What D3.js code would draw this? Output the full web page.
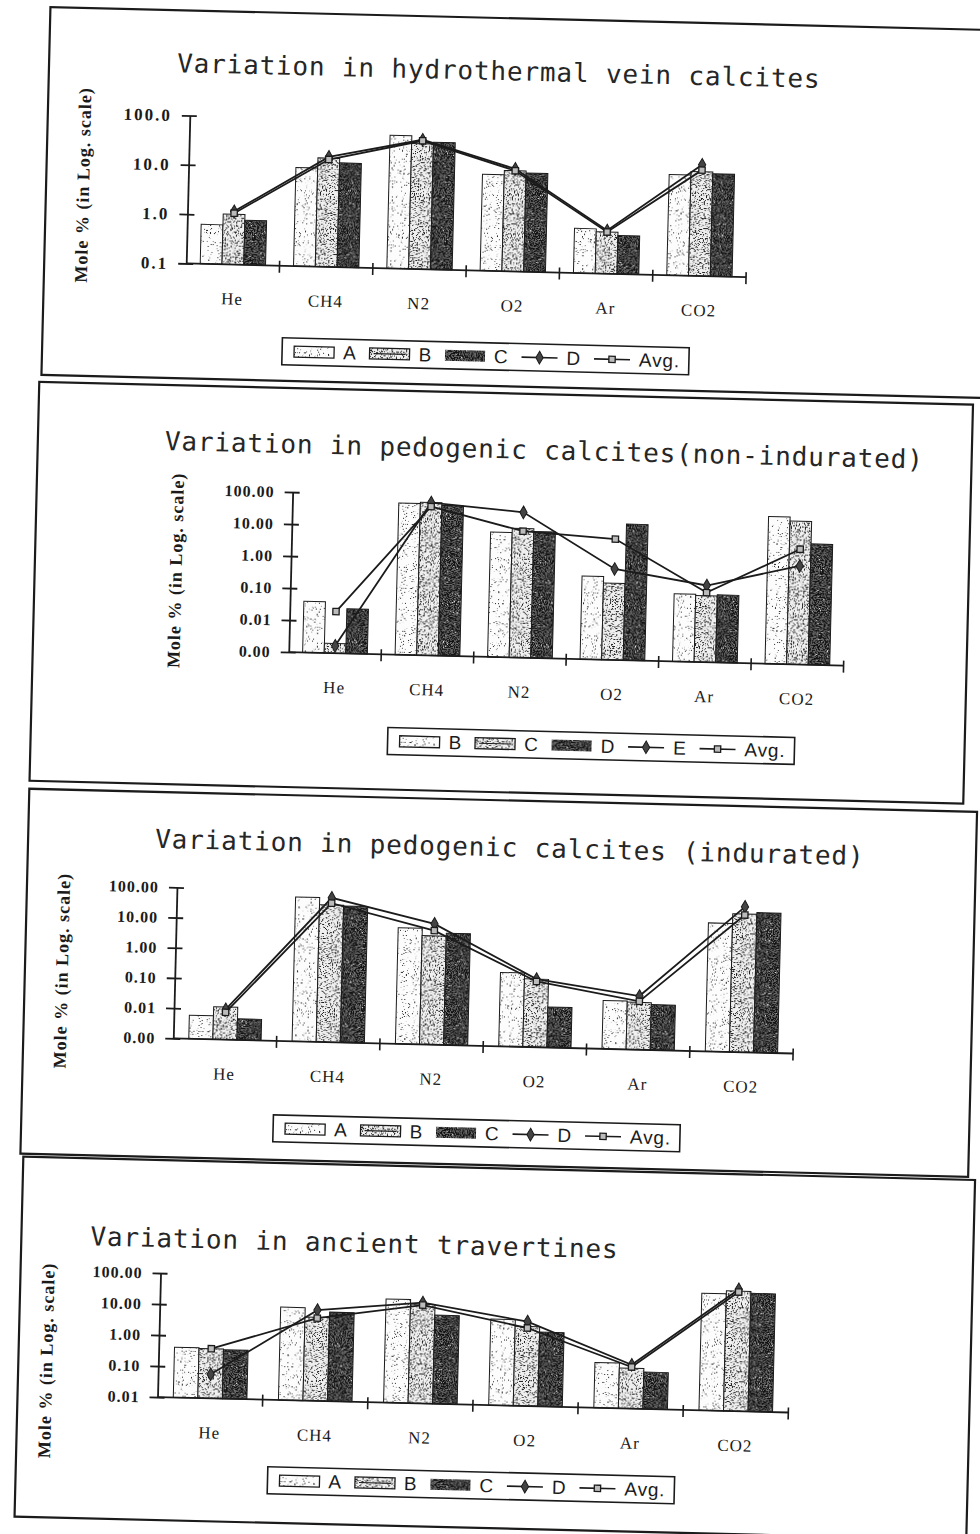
<!DOCTYPE html>
<html>
<head>
<meta charset="utf-8">
<script src="https://cdn.jsdelivr.net/npm/d3@7"></script>
<style>
  html, body { margin: 0; padding: 0; background: #fff; }
  svg { display: block; }
</style>
</head>
<body>
<svg id="fig" width="980" height="1534"></svg>
<script>
// ---- data -------------------------------------------------------------
const gases = ["He", "CH4", "N2", "O2", "Ar", "CO2"];

// Hydrothermal vein calcites (mole %)
const hydroA   = [0.63, 10, 50, 9, 0.8, 11];
const hydroB   = [1.05, 16, 35, 11, 0.7, 13];
const hydroC   = [0.8, 13, 38, 10, 0.6, 12];
const hydroD   = [1.2, 17, 42, 12, 0.75, 18];
const hydroAvg = [1.1, 15, 40, 11, 0.7, 14];

// Pedogenic calcites, non-indurated
const nonIndB   = [0.04, 55, 8, 0.4, 0.13, 40];
const nonIndC   = [0.002, 60, 11, 0.25, 0.12, 30];
const nonIndD   = [0.025, 50, 9, 18, 0.13, 6];
const nonIndE   = [0.0017, 60, 35, 0.7, 0.25, 1.2];
const nonIndAvg = [0.02, 45, 9, 6, 0.15, 4];

// Pedogenic calcites, indurated
const indA   = [0.006, 60, 7, 0.28, 0.04, 18];
const indB   = [0.012, 35, 4, 0.18, 0.037, 38];
const indC   = [0.005, 33, 5, 0.022, 0.032, 43];
const indD   = [0.01, 60, 10, 0.18, 0.06, 65];
const indAvg = [0.008, 40, 6, 0.15, 0.04, 35];

// Ancient travertines
const travA   = [0.42, 10, 22, 6, 0.29, 60];
const travB   = [0.4, 5, 16, 3.7, 0.2, 75];
const travC   = [0.38, 7.5, 7.3, 2.5, 0.155, 65];
const travD   = [0.06, 8.5, 18, 5.3, 0.26, 85];
const travAvg = [0.4, 4.7, 15, 3.3, 0.22, 70];

// log-axis ticks and their printed labels
const hydroTicks = [0.1, 1, 10, 100];
const hydroTickLabels = ["0.1", "1.0", "10.0", "100.0"];
const pedoTicks = [0.001, 0.01, 0.1, 1, 10, 100];
const pedoTickLabels = ["0.00", "0.01", "0.10", "1.00", "10.00", "100.00"];
const travTicks = [0.01, 0.1, 1, 10, 100];
const travTickLabels = ["0.01", "0.10", "1.00", "10.00", "100.00"];

const yTitle = "Mole % (in Log. scale)";

// ---- panel set-up -----------------------------------------------------
const panels = [
  {
    title: "Variation in hydrothermal vein calcites",
    ticks: hydroTicks, tickLabels: hydroTickLabels,
    bars: [{ name: "A", values: hydroA, style: "light" },
           { name: "B", values: hydroB, style: "mid" },
           { name: "C", values: hydroC, style: "dark" }],
    lines: [{ name: "D", values: hydroD, marker: "diamond" },
            { name: "Avg.", values: hydroAvg, marker: "square" }],
    layout: { frame: [32, 18, 975, 386], title: [160, 80], yTitle: [75, 195],
              x0: 174, x1: 734, yTop: 123, yBottom: 271, legend: [272, 343],
              tickSize: 17, tickSpacing: 2 }
  },
  {
    title: "Variation in pedogenic calcites(non-indurated)",
    ticks: pedoTicks, tickLabels: pedoTickLabels,
    bars: [{ name: "B", values: nonIndB, style: "light" },
           { name: "C", values: nonIndC, style: "mid" },
           { name: "D", values: nonIndD, style: "dark" }],
    lines: [{ name: "E", values: nonIndE, marker: "diamond" },
            { name: "Avg.", values: nonIndAvg, marker: "square" }],
    layout: { frame: [30, 393, 964, 792], title: [157, 458], yTitle: [177, 578],
              x0: 286, x1: 841, yTop: 497, yBottom: 657, legend: [387, 730],
              tickSize: 16, tickSpacing: 1 }
  },
  {
    title: "Variation in pedogenic calcites (indurated)",
    ticks: pedoTicks, tickLabels: pedoTickLabels,
    bars: [{ name: "A", values: indA, style: "light" },
           { name: "B", values: indB, style: "mid" },
           { name: "C", values: indC, style: "dark" }],
    lines: [{ name: "D", values: indD, marker: "diamond" },
            { name: "Avg.", values: indAvg, marker: "square" }],
    layout: { frame: [30, 800, 978, 1165], title: [157, 856], yTitle: [73, 981],
              x0: 180, x1: 800, yTop: 895, yBottom: 1046, legend: [282, 1120],
              tickSize: 16, tickSpacing: 1 }
  },
  {
    title: "Variation in ancient travertines",
    ticks: travTicks, tickLabels: travTickLabels,
    bars: [{ name: "A", values: travA, style: "light" },
           { name: "B", values: travB, style: "mid" },
           { name: "C", values: travC, style: "dark" }],
    lines: [{ name: "D", values: travD, marker: "diamond" },
            { name: "Avg.", values: travAvg, marker: "square" }],
    layout: { frame: [33, 1168, 985, 1528], title: [102, 1255], yTitle: [67, 1371],
              x0: 173, x1: 804, yTop: 1281, yBottom: 1405, legend: [285, 1472],
              tickSize: 16, tickSpacing: 1 }
  }
];

// ---- textures ---------------------------------------------------------
const svg = d3.select("#fig");
svg.append("rect").attr("width", 980).attr("height", 1534).attr("fill", "#fff");
const defs = svg.append("defs");

// speckle mask: alpha taken from thresholded fractal noise
function addSpeck(id, freq, seed, k, t, invert) {
  const f = defs.append("filter").attr("id", id)
    .attr("x", 0).attr("y", 0).attr("width", 1).attr("height", 1)
    .attr("color-interpolation-filters", "sRGB");
  f.append("feTurbulence").attr("type", "fractalNoise")
    .attr("baseFrequency", freq).attr("numOctaves", 2).attr("seed", seed)
    .attr("stitchTiles", "stitch").attr("result", "n");
  const a = invert ? `${-k} 0 0 0 ${k * t}` : `${k} 0 0 0 ${-k * t}`;
  f.append("feColorMatrix").attr("in", "n").attr("type", "matrix")
    .attr("values", `0 0 0 0 0  0 0 0 0 0  0 0 0 0 0  ${a}`).attr("result", "m");
  f.append("feComposite").attr("in", "SourceGraphic").attr("in2", "m").attr("operator", "in");
}
addSpeck("spLight", 0.9, 3, 14, 0.66, false);
addSpeck("spMid", 0.8, 5, 12, 0.56, false);
addSpeck("spDark", 0.85, 9, 10, 0.45, false);
addSpeck("spDarkW", 0.9, 13, 12, 0.31, true);

function addPattern(id, base, layers) {
  const s = 64;
  const p = defs.append("pattern").attr("id", id)
    .attr("patternUnits", "userSpaceOnUse").attr("width", s).attr("height", s);
  p.append("rect").attr("width", s).attr("height", s).attr("fill", base);
  layers.forEach(l => p.append("rect").attr("width", s).attr("height", s)
    .attr("fill", l[0]).attr("filter", `url(#${l[1]})`));
}
addPattern("pat-light", "#fcfcfc", [["#222", "spLight"]]);
addPattern("pat-mid", "#f0f0f0", [["#1c1c1c", "spMid"]]);
addPattern("pat-dark", "#666", [["#111", "spDark"], ["#e6e6e6", "spDarkW"]]);

// ---- drawing ----------------------------------------------------------
const ink = "#1b1b1b";
const serif = "'Liberation Serif', 'DejaVu Serif', serif";
const sans = "'Liberation Sans', Arial, sans-serif";
const mono = "'DejaVu Sans Mono', monospace";

const root = svg.append("g").attr("transform", "rotate(1.4 490 767)");

function markerPath(kind) {
  return kind === "diamond"
    ? d3.symbol(d3.symbolDiamond, 46)()
    : d3.symbol(d3.symbolSquare, 40)();
}
function styleMarker(sel, kind) {
  if (kind === "diamond") sel.attr("fill", "#444").attr("stroke", ink).attr("stroke-width", 1);
  else sel.attr("fill", "#bbb").attr("stroke", ink).attr("stroke-width", 1.3);
}

function drawPanel(g, p) {
  const L = p.layout;
  const [fx0, fy0, fx1, fy1] = L.frame;

  g.append("rect").attr("x", fx0).attr("y", fy0)
    .attr("width", fx1 - fx0).attr("height", fy1 - fy0)
    .attr("fill", "none").attr("stroke", ink).attr("stroke-width", 2.2);

  g.append("text").attr("x", L.title[0]).attr("y", L.title[1])
    .attr("font-family", mono).attr("font-size", 26).attr("letter-spacing", 0.85)
    .attr("fill", "#262626").text(p.title);

  g.append("text")
    .attr("transform", `translate(${L.yTitle[0]},${L.yTitle[1]}) rotate(-90)`)
    .attr("text-anchor", "middle").attr("font-family", serif)
    .attr("font-weight", "bold").attr("font-size", 18).attr("letter-spacing", 1)
    .attr("fill", ink).text(yTitle);

  const y = d3.scaleLog().domain([p.ticks[0], 100]).range([L.yBottom, L.yTop]);
  const x = d3.scaleBand().domain(gases).range([L.x0, L.x1])
    .paddingInner(0.3).paddingOuter(0.15);
  const xs = d3.scaleBand().domain(p.bars.map(b => b.name)).range([0, x.bandwidth()]);

  // bars
  p.bars.forEach(b => {
    g.append("g").selectAll("rect")
      .data(gases.map((gas, i) => ({ gas, v: b.values[i] })))
      .join("rect")
      .attr("x", d => x(d.gas) + xs(b.name))
      .attr("y", d => y(d.v))
      .attr("width", xs.bandwidth())
      .attr("height", d => y(p.ticks[0]) - y(d.v))
      .attr("fill", `url(#pat-${b.style})`)
      .attr("stroke", ink).attr("stroke-width", 1);
  });

  // y axis
  const labelOf = new Map(p.ticks.map((t, i) => [t, p.tickLabels[i]]));
  const ya = g.append("g").attr("transform", `translate(${L.x0},0)`)
    .call(d3.axisLeft(y).tickValues(p.ticks).tickFormat(d => labelOf.get(d))
      .tickSize(7).tickSizeOuter(0).tickPadding(11));
  ya.select(".domain").attr("stroke", ink).attr("stroke-width", 1.8);
  ya.selectAll(".tick line").attr("x1", -8).attr("x2", 7)
    .attr("stroke", ink).attr("stroke-width", 1.8);
  ya.selectAll(".tick text").attr("font-family", serif).attr("font-weight", "bold")
    .attr("font-size", L.tickSize).attr("letter-spacing", L.tickSpacing).attr("fill", ink);

  // x axis: baseline, group separators and gas labels
  const yb = y(p.ticks[0]);
  g.append("line").attr("x1", L.x0).attr("x2", L.x1).attr("y1", yb).attr("y2", yb)
    .attr("stroke", ink).attr("stroke-width", 1.8);
  g.append("g").selectAll("line").data(gases).join("line")
    .attr("x1", d => x(d) + x.bandwidth() + x.step() * 0.15)
    .attr("x2", d => x(d) + x.bandwidth() + x.step() * 0.15)
    .attr("y1", yb - 5).attr("y2", yb + 7)
    .attr("stroke", ink).attr("stroke-width", 1.6);
  const xa = g.append("g").attr("transform", `translate(0,${yb})`)
    .call(d3.axisBottom(x).tickSize(0).tickPadding(28));
  xa.select(".domain").remove();
  xa.selectAll(".tick text").attr("font-family", serif).attr("font-size", 17)
    .attr("letter-spacing", 1).attr("fill", ink);

  // series lines with markers
  const line = d3.line().x(d => x(d.gas) + x.bandwidth() / 2).y(d => y(d.v));
  p.lines.forEach(s => {
    const pts = gases.map((gas, i) => ({ gas, v: s.values[i] }));
    g.append("path").datum(pts).attr("d", line)
      .attr("fill", "none").attr("stroke", ink).attr("stroke-width", 1.8);
    g.append("g").selectAll("path").data(pts).join("path")
      .attr("transform", d => `translate(${x(d.gas) + x.bandwidth() / 2},${y(d.v)})`)
      .attr("d", markerPath(s.marker))
      .call(sel => styleMarker(sel, s.marker));
  });

  // legend
  const lg = g.append("g").attr("transform", `translate(${L.legend[0]},${L.legend[1]})`);
  const box = lg.append("rect");
  let cx = 12;
  const addLabel = (txt) => {
    const t = lg.append("text").attr("x", cx).attr("y", 20)
      .attr("font-family", sans).attr("font-size", 19).attr("letter-spacing", 0.8)
      .attr("fill", ink).text(txt);
    cx += t.node().getComputedTextLength() + 13;
  };
  p.bars.forEach(b => {
    const r = lg.append("rect").attr("x", cx).attr("y", 8).attr("width", 40).attr("height", 11)
      .attr("fill", `url(#pat-${b.style})`);
    if (b.style !== "dark") r.attr("stroke", ink).attr("stroke-width", 1.3);
    if (b.style === "mid") {
      lg.append("line").attr("x1", cx + 4).attr("x2", cx + 36).attr("y1", 13.5).attr("y2", 13.5)
        .attr("stroke", ink).attr("stroke-width", 1.2);
    }
    cx += 49;
    addLabel(b.name);
  });
  p.lines.forEach(s => {
    lg.append("line").attr("x1", cx).attr("x2", cx + 36).attr("y1", 13.5).attr("y2", 13.5)
      .attr("stroke", ink).attr("stroke-width", 1.6);
    lg.append("path").attr("transform", `translate(${cx + 18},13.5)`)
      .attr("d", markerPath(s.marker)).call(sel => styleMarker(sel, s.marker));
    cx += 45;
    addLabel(s.name);
  });
  box.attr("x", 0).attr("y", 0).attr("width", cx - 4).attr("height", 27)
    .attr("fill", "#fff").attr("stroke", ink).attr("stroke-width", 1.6);
}

panels.forEach(p => drawPanel(root.append("g"), p));
</script>
</body>
</html>
